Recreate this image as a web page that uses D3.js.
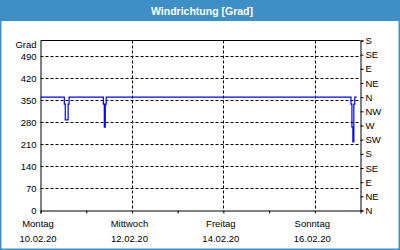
<!DOCTYPE html>
<meta charset="utf-8">
<script src="https://d3js.org/d3.v7.min.js"></script>
<style>
  body { margin: 0; background: #fff; }
  text { font-family: "Liberation Sans", Arial, sans-serif; fill: #000; }
</style>
<div id="chart"></div>
<script>

// data (wind direction, degrees)
var times = ["10.02.20 00:00", "10.02.20 12:30", "10.02.20 13:00", "10.02.20 14:30", "10.02.20 15:00",
             "11.02.20 09:00", "11.02.20 09:30", "11.02.20 10:00", "11.02.20 10:30",
             "16.02.20 19:00", "16.02.20 19:30", "16.02.20 20:00", "16.02.20 20:30", "16.02.20 21:00", "16.02.20 22:00"];
var values = [360, 338, 288, 338, 360,
              338, 265, 338, 360,
              338, 265, 218, 338, 360, 360];

var gradTicks = [0, 70, 140, 210, 280, 350, 420, 490];
var dirTicks = [0, 45, 90, 135, 180, 225, 270, 315, 360, 405, 450, 495, 540];
var dirLabels = ["N", "NE", "E", "SE", "S", "SW", "W", "NW", "N", "NE", "E", "SE", "S"];
var dayTicks = ["10.02.20", "11.02.20", "12.02.20", "13.02.20", "14.02.20", "15.02.20", "16.02.20"];
var labelDates = ["10.02.20", "12.02.20", "14.02.20", "16.02.20"];
var labelDays = ["Montag", "Mittwoch", "Freitag", "Sonntag"];
var gridDates = ["12.02.20", "14.02.20", "16.02.20"];

var W = 400, H = 250;
var parseT = d3.timeParse("%d.%m.%y %H:%M");
var parseD = d3.timeParse("%d.%m.%y");

var svg = d3.select("#chart").append("svg")
    .attr("width", W)
    .attr("height", H);

// panel frame + title bar
svg.append("rect")
    .attr("x", 0).attr("y", 0).attr("width", W).attr("height", 21)
    .attr("fill", "#3d8fc6");
svg.append("rect")
    .attr("x", 0.75).attr("y", 0.75).attr("width", W - 1.5).attr("height", H - 1.5)
    .attr("fill", "none").attr("stroke", "#3d8fc6").attr("stroke-width", 1.5);
svg.append("text")
    .attr("x", 202).attr("y", 14.5)
    .attr("text-anchor", "middle")
    .style("font-size", "10.5px").style("font-weight", "bold").style("fill", "#fff")
    .text("Windrichtung [Grad]");

var x = d3.scaleTime()
    .domain([parseD("10.02.20"), parseD("17.02.20")])
    .range([40.5, 360.5]);
var y = d3.scaleLinear()
    .domain([0, 540])
    .range([210.5, 40.5]);

// horizontal grid
svg.append("g").selectAll("line")
  .data(gradTicks.filter(function(d) { return d > 0; }))
  .enter().append("line")
    .attr("x1", x.range()[0]).attr("x2", x.range()[1])
    .attr("y1", function(d) { return Math.round(y(d)) + 0.5; })
    .attr("y2", function(d) { return Math.round(y(d)) + 0.5; })
    .attr("stroke", "#000").attr("stroke-dasharray", "3,2");

// vertical grid
svg.append("g").selectAll("line")
  .data(gridDates)
  .enter().append("line")
    .attr("x1", function(d) { return Math.round(x(parseD(d))) + 0.5; })
    .attr("x2", function(d) { return Math.round(x(parseD(d))) + 0.5; })
    .attr("y1", y.range()[1]).attr("y2", y.range()[0])
    .attr("stroke", "#000").attr("stroke-dasharray", "3,2");

// top border
svg.append("line")
    .attr("x1", x.range()[0]).attr("x2", x.range()[1])
    .attr("y1", y.range()[1]).attr("y2", y.range()[1])
    .attr("stroke", "#000");

// left axis
var yAxisL = svg.append("g")
    .attr("transform", "translate(" + x.range()[0] + ",0)")
    .call(d3.axisLeft(y).tickValues(gradTicks).tickSize(0).tickPadding(4));
yAxisL.select(".domain").attr("stroke", "#000");
yAxisL.selectAll("text").style("font-size", "9.5px").style("font-family", "Liberation Sans, Arial, sans-serif");
svg.append("text")
    .attr("x", 36.5).attr("y", 48)
    .attr("text-anchor", "end")
    .style("font-size", "9.5px")
    .text("Grad");

// right axis
var yAxisR = svg.append("g")
    .attr("transform", "translate(" + x.range()[1] + ",0)")
    .call(d3.axisRight(y).tickValues(dirTicks).tickSize(3).tickPadding(2)
      .tickFormat(function(d, i) { return dirLabels[i]; }));
yAxisR.selectAll("text").style("font-size", "9.5px").style("font-family", "Liberation Sans, Arial, sans-serif");

// bottom axis
var xAxis = svg.append("g")
    .attr("transform", "translate(0," + y.range()[0] + ")")
    .call(d3.axisBottom(x).tickValues(dayTicks.map(parseD)).tickSize(3).tickFormat(""));

var lab = svg.append("g").selectAll("g")
  .data(labelDates)
  .enter().append("g")
    .attr("transform", function(d) { return "translate(" + (x(parseD(d)) - 2.5) + ",0)"; });
lab.append("text")
    .attr("y", 226.5).attr("text-anchor", "middle")
    .style("font-size", "9.5px")
    .text(function(d, i) { return labelDays[i]; });
lab.append("text")
    .attr("y", 241.5).attr("text-anchor", "middle")
    .style("font-size", "9.5px")
    .text(function(d) { return d; });

// wind direction line
var data = times.map(function(t, i) { return {t: parseT(t), v: values[i]}; });
var line = d3.line()
    .curve(d3.curveStepAfter)
    .x(function(d) { return x(d.t); })
    .y(function(d) { return y(d.v); });
svg.append("path")
    .datum(data)
    .attr("d", line)
    .attr("fill", "none")
    .attr("stroke", "#0000ff")
    .attr("stroke-width", 1.2);

</script>
